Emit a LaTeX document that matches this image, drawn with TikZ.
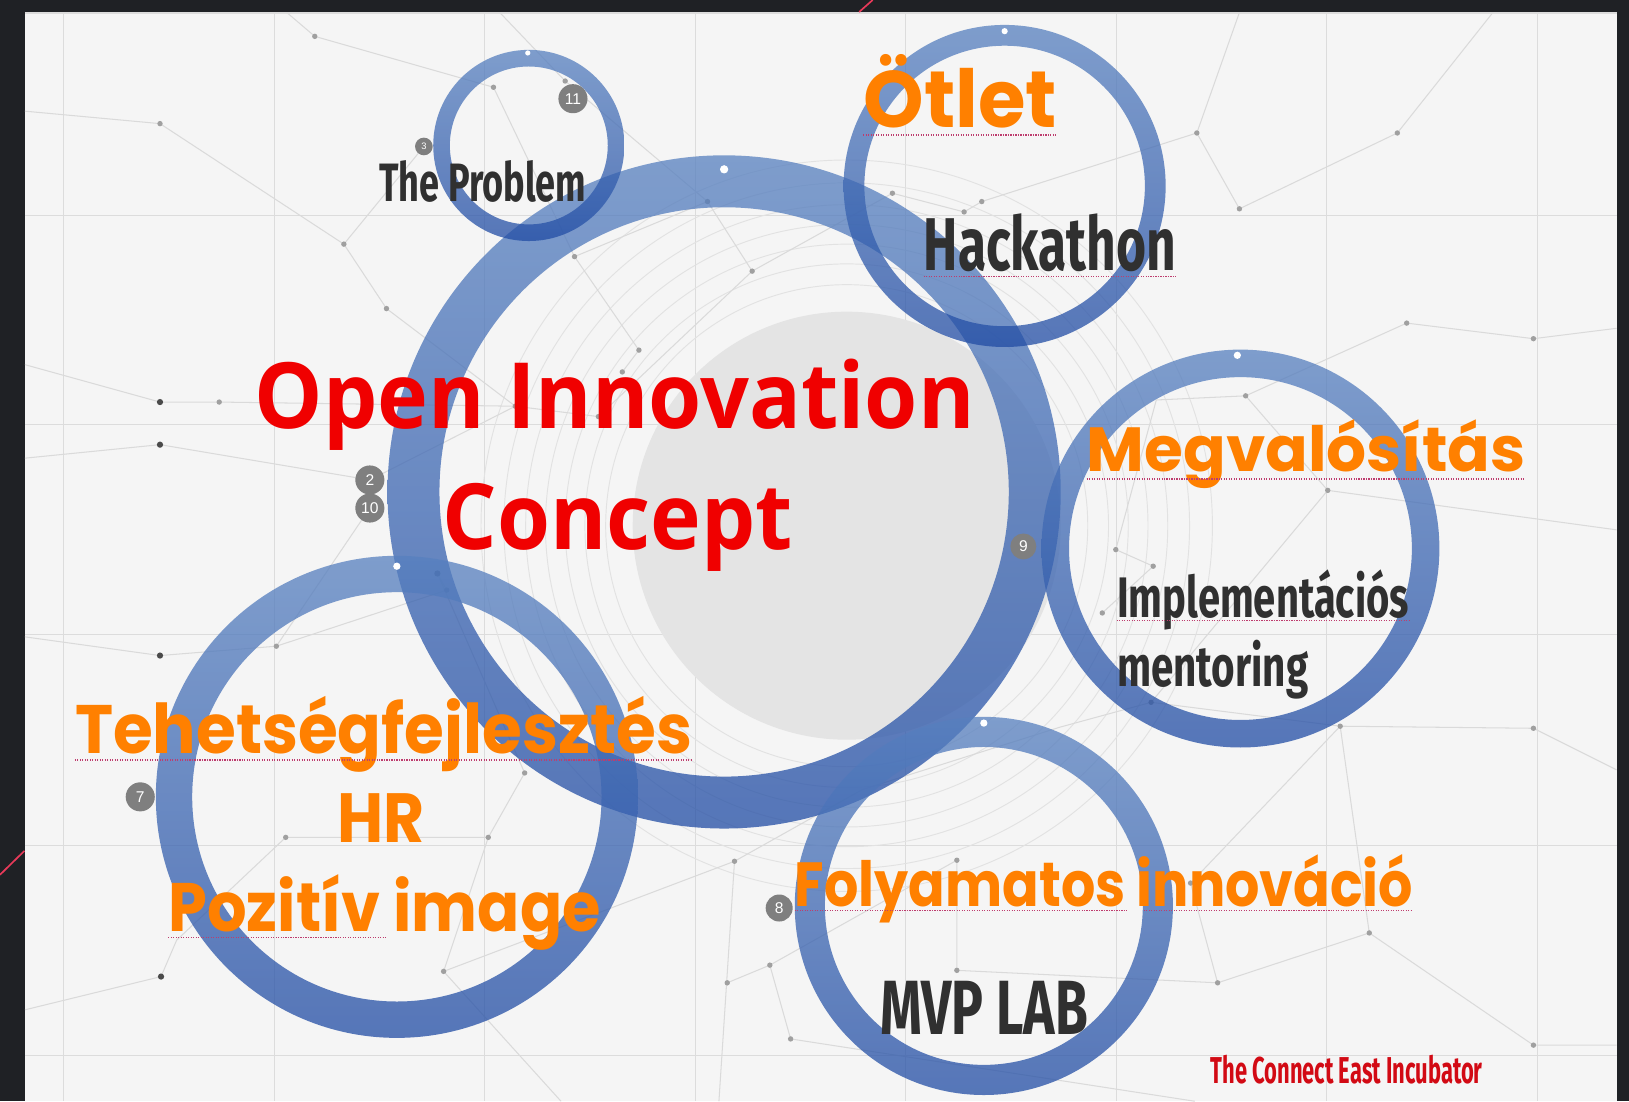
\documentclass[tikz,border=0pt]{standalone}
\usepackage{fontspec}
\usepackage{graphicx}
\usetikzlibrary{shadings}
\newfontfamily\oifont{Open Sans}
\newfontfamily\orfont{Poppins}
\newfontfamily\cdfont{Fira Sans}
\newfontfamily\bdgfont{Liberation Sans}
\definecolor{framec}{HTML}{1F2125}
\definecolor{panelc}{HTML}{F5F5F5}
\definecolor{gridc}{HTML}{DCDCDC}
\definecolor{netc}{HTML}{DADADA}
\definecolor{arcc}{HTML}{E2E2E2}
\definecolor{dotc}{HTML}{A0A0A0}
\definecolor{dotdark}{HTML}{4A4A4A}
\definecolor{ringtop}{RGB}{87,128,191}
\definecolor{ringbot}{RGB}{33,76,164}
\definecolor{oired}{RGB}{240,0,0}
\definecolor{orangec}{RGB}{255,128,0}
\definecolor{darktext}{HTML}{303030}
\definecolor{incred}{RGB}{210,10,20}
\definecolor{badgec}{HTML}{7F7F7F}
\definecolor{spell}{RGB}{190,60,110}
\definecolor{accentc}{RGB}{232,58,90}
\definecolor{diskc}{HTML}{E4E4E4}
\begin{document}
\begin{tikzpicture}[x=1pt,y=-1pt,
  ring/.style={even odd rule, top color=ringtop, bottom color=ringbot, opacity=0.75},
  gridline/.style={draw=gridc, line width=0.9pt},
  net/.style={draw=netc, line width=1pt},
  arcline/.style={draw=arcc, line width=0.9pt},
  spellline/.style={draw=spell, line width=1.1pt, dash pattern=on 1.1pt off 1.3pt},
  txt/.style={inner sep=0pt, anchor=base west},
  badge/.style={circle, fill=badgec, text=white, inner sep=0pt, minimum size=28pt, font=\bdgfont\fontsize{15}{15}\selectfont},
  wdot/.style={fill=white}]
% frame and panel
\fill[framec] (0,0) rectangle (1568,1060);
\useasboundingbox (0,0) rectangle (1568,1060);
\fill[panelc] (24,12) rectangle (1556,1060);
\draw[draw=gridc, line width=1.5pt] (24,12.7) -- (1556,12.7);
% accent lines on the frame
\draw[accentc, line width=1.6pt] (827,11.5) -- (840,0);
\draw[accentc, line width=1.6pt] (0,842) -- (23.5,819);
% grid
\foreach \gx in {61,264,466,669,872,1075,1277,1480} \draw[gridline] (\gx,13) -- (\gx,1060);
\foreach \gy in {207,409,611,814,1016} \draw[gridline] (24,\gy) -- (1556,\gy);
% concentric arcs
\coordinate (cDisk) at (815,506);
\foreach \r in {232,252,271,290,309,330,352} \draw[arcline] (cDisk) circle[radius=\r];
% network coordinates
\coordinate (e1) at (24,107); \coordinate (e2) at (154,119); \coordinate (e3) at (331,235);
\coordinate (e4) at (372,297); \coordinate (e5) at (303,35); \coordinate (e6) at (276,12);
\coordinate (e7) at (475,84); \coordinate (e8) at (544,78); \coordinate (e9) at (481,12);
\coordinate (e10) at (553,247); \coordinate (e11) at (681,194); \coordinate (e12) at (724,261);
\coordinate (e13) at (154,387); \coordinate (e14) at (211,387); \coordinate (e15) at (24,351);
\coordinate (e16) at (154,428); \coordinate (e17) at (24,441); \coordinate (e18) at (496,391);
\coordinate (e19) at (576,401); \coordinate (e20) at (599,358); \coordinate (e21) at (154,631);
\coordinate (e22) at (24,613); \coordinate (e23) at (266,622); \coordinate (e24) at (430,568);
\coordinate (e25) at (421,552); \coordinate (e26) at (155,940); \coordinate (e27) at (24,972);
\coordinate (e28) at (275,806); \coordinate (e29) at (470,806); \coordinate (e30) at (427,935);
\coordinate (e31) at (505,744); \coordinate (e32) at (540,1060); \coordinate (e33) at (707,829);
\coordinate (e34) at (741,929); \coordinate (e35) at (700,946); \coordinate (e36) at (761,1000);
\coordinate (e37) at (692,1060); \coordinate (e38) at (615,337); \coordinate (e39) at (170,905);
\coordinate (f1) at (859,186); \coordinate (f2) at (928,204); \coordinate (f3) at (945,194);
\coordinate (f4) at (1152,128); \coordinate (f5) at (1193,201); \coordinate (f6) at (1345,128);
\coordinate (f7) at (1437,12); \coordinate (f8) at (1193,12); \coordinate (f9) at (1354,311);
\coordinate (f10) at (1476,326); \coordinate (f11) at (1556,316); \coordinate (f12) at (1199,381);
\coordinate (f13) at (1278,472); \coordinate (f14) at (1556,510); \coordinate (f15) at (1074,529);
\coordinate (f16) at (1110,545); \coordinate (f17) at (1061,590); \coordinate (f18) at (1290,699);
\coordinate (f19) at (1476,701); \coordinate (f20) at (1556,741); \coordinate (f21) at (1318,898);
\coordinate (f22) at (1476,1006); \coordinate (f23) at (1556,1006); \coordinate (f24) at (1172,946);
\coordinate (f25) at (921,828); \coordinate (f26) at (921,934); \coordinate (f27) at (1146,850);
\coordinate (f28) at (1108,676); \coordinate (f29) at (1113,385); \coordinate (f30) at (1150,1060);
\coordinate (f31) at (1020,700); \coordinate (f32) at (830,760);
% network lines
\draw[net] (e1) -- (e2) -- (e3) -- (e4) -- (e18) -- (e19) -- (e12);
\draw[net] (e3) -- (408,141);
\draw[net] (e6) -- (e5) -- (e7) -- (e10) -- (e38) -- (e20);
\draw[net] (e9) -- (e8) -- (e11) -- (e12) -- (f1);
\draw[net] (e11) -- (e10);
\draw[net] (e15) -- (e13) -- (e14) -- (e18);
\draw[net] (e17) -- (e16) -- (356,462) -- (e18);
\draw[net] (e22) -- (e21) -- (e23) -- (e24) -- (e25);
\draw[net] (e23) -- (356,489);
\draw[net] (e27) -- (e26) -- (e39) -- (e28);
\draw[net] (e28) -- (e29) -- (e30) -- (e33);
\draw[net] (e29) -- (e31) -- (e25);
\draw[net] (e30) -- (e32);
\draw[net] (e35) -- (e34) -- (e36) -- (f30);
\draw[net] (e33) -- (e37);
\draw[net] (e34) -- (f25) -- (f26) -- (f24);
\draw[net] (f1) -- (f2) -- (f3) -- (f4) -- (f5) -- (f6) -- (f7);
\draw[net] (f4) -- (f8);
\draw[net] (f9) -- (f10) -- (f11);
\draw[net] (f9) -- (f12) -- (f13) -- (f14);
\draw[net] (f12) -- (f29) -- (f15) -- (f16) -- (f17);
\draw[net] (f18) -- (f19) -- (f20);
\draw[net] (f18) -- (f21) -- (f22) -- (f23);
\draw[net] (f18) -- (f27) -- (f24);
\draw[net] (f28) -- (f31) -- (f32) -- (e33);
\draw[net] (f28) -- (f18);
\draw[net] (f13) -- (f28);
\draw[net] (f21) -- (f24);
% network dots
\foreach \p in {e2,e3,e4,e5,e7,e8,e10,e11,e12,e14,e18,e19,e20,e23,e24,e28,e29,e30,e31,e33,e34,e35,e36,e38,f1,f2,f3,f4,f5,f6,f9,f10,f12,f13,f15,f16,f17,f18,f19,f21,f22,f24,f25,f26,f27,f28}
  \fill[dotc] (\p) circle[radius=2.6];
\foreach \p in {e13,e16,e21,e26,e25}
  \fill[dotdark] (\p) circle[radius=3];
% grey disk
\fill[diskc] (cDisk) circle[radius=206];
% rings
\coordinate (cBig) at (697,473.5);
\coordinate (cProb) at (509,140);
\coordinate (cOtl) at (967,179);
\coordinate (cMeg) at (1194,528);
\coordinate (cHR) at (382,767);
\coordinate (cMVP) at (947,872);
\path[ring] (cBig) circle[radius=324] (cBig) circle[radius=274];
\path[ring] (cProb) circle[radius=92] (cProb) circle[radius=76];
\path[ring] (cOtl) circle[radius=155] (cOtl) circle[radius=135];
\path[ring] (cMeg) circle[radius=191.5] (cMeg) circle[radius=165];
\path[ring] (cHR) circle[radius=232] (cHR) circle[radius=197];
\path[ring] (cMVP) circle[radius=182] (cMVP) circle[radius=153];
% white dots on rings
\fill[wdot] (697,163) circle[radius=4];
\fill[wdot] (508,51) circle[radius=2.5];
\fill[wdot] (967,30) circle[radius=3];
\fill[wdot] (1191,342) circle[radius=3.5];
\fill[wdot] (947,696) circle[radius=3.5];
\fill[wdot] (382,545) circle[radius=3.5];
% texts
\node[txt, text=darktext] (tprob) at (365,194) {\resizebox{199pt}{\height}{\cdfont\bfseries\fontsize{52}{52}\selectfont The Problem}};
\node[txt, text=orangec] (totl) at (831,123) {\resizebox{186pt}{\height}{\orfont\bfseries\fontsize{77}{77}\selectfont Ötlet}};
\node[txt, text=darktext] (thack) at (889,260) {\resizebox{243pt}{\height}{\cdfont\bfseries\fontsize{72}{72}\selectfont Hackathon}};
\node[txt, text=oired] (toi) at (245,412) {\resizebox{693pt}{\height}{\oifont\bfseries\fontsize{88}{88}\selectfont Open Innovation}};
\node[txt, text=oired] (tconc) at (426,529) {\resizebox{337pt}{\height}{\oifont\bfseries\fontsize{88}{88}\selectfont Concept}};
\node[txt, text=orangec] (tmeg) at (1046,454) {\resizebox{422pt}{\height}{\orfont\bfseries\fontsize{60}{60}\selectfont Megvalósítás}};
\node[txt, text=darktext] (timp) at (1075,594) {\resizebox{281pt}{\height}{\cdfont\bfseries\fontsize{55}{55}\selectfont Implementációs}};
\node[txt, text=darktext] (tment) at (1075,661) {\resizebox{184pt}{\height}{\cdfont\bfseries\fontsize{55}{55}\selectfont mentoring}};
\node[txt, text=orangec] (tteh) at (72,725) {\resizebox{594pt}{\height}{\orfont\bfseries\fontsize{66}{66}\selectfont Tehetségfejlesztés}};
\node[txt, text=orangec] (thr) at (325,811) {\resizebox{84pt}{\height}{\orfont\bfseries\fontsize{67}{67}\selectfont HR}};
\node[txt, text=orangec] (tpoz) at (162,897) {\resizebox{416pt}{\height}{\orfont\bfseries\fontsize{66}{66}\selectfont Pozitív image}};
\node[txt, text=orangec] (tfoly) at (765,873) {\resizebox{595pt}{\height}{\orfont\bfseries\fontsize{60}{60}\selectfont Folyamatos innováció}};
\node[txt, text=darktext] (tmvp) at (847,996) {\resizebox{200pt}{\height}{\cdfont\bfseries\fontsize{74}{74}\selectfont MVP LAB}};
\node[txt, text=incred] (tinc) at (1165,1043) {\resizebox{262pt}{\height}{\cdfont\bfseries\fontsize{36}{36}\selectfont The Connect East Incubator}};
% spell-check underlines
\draw[spellline] (831,130) -- (1017,130);
\draw[spellline] (889,266.5) -- (1132,266.5);
\draw[spellline] (1046,461) -- (1468,461);
\draw[spellline] (1075,597.5) -- (1356,597.5);
\draw[spellline] (72,731.5) -- (666,731.5);
\draw[spellline] (162,902) -- (371,902);
\draw[spellline] (765,876.5) -- (1085,876.5);
\draw[spellline] (1101,876.5) -- (1360,876.5);
% badges
\node[badge] (b11) at (551.5,95) {11};
\node[badge, minimum size=17pt, font=\bdgfont\fontsize{9}{9}\selectfont] (b3) at (408,141) {3};
\node[badge] (b2) at (356,462) {2};
\node[badge] (b10) at (356,489) {10};
\node[badge, minimum size=25pt] (b9) at (985,526) {9};
\node[badge] (b7) at (135,767) {7};
\node[badge, minimum size=26pt] (b8) at (750,874) {8};
\end{tikzpicture}
\end{document}
